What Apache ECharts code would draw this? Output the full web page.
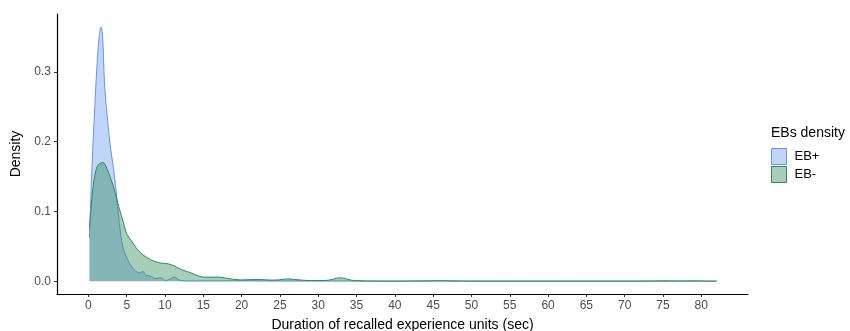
<!DOCTYPE html>
<html>
<head>
<meta charset="utf-8">
<script src="https://cdn.jsdelivr.net/npm/echarts@6/dist/echarts.min.js"></script>
<style>
  html, body { margin: 0; padding: 0; background: #fff; }
  #chart { width: 850px; height: 331px; }
</style>
</head>
<body>
<div id="chart"></div>
<script>
// Kernel density estimates of recalled experience unit durations (sec)
const seriesNames = ['EB+', 'EB-'];

const ebPlusX = [0.13, 0.35, 0.57, 0.78, 1.0, 1.2, 1.4, 1.65, 1.85, 2.09, 2.44, 2.9, 3.3, 3.6, 4.05, 4.48,
  5.13, 5.78, 6.65, 7.1, 7.4, 7.75, 8.2, 8.8, 9.5, 10.1, 10.6, 11.2, 11.7, 12.1, 12.9, 14, 16, 18, 20,
  24, 28, 32, 36, 40, 44, 45.7, 47.5, 52, 57, 62, 67, 71, 73.5, 75.1, 77, 79, 80.5, 82];
const ebPlusY = [0.062, 0.131, 0.19, 0.238, 0.286, 0.322, 0.350, 0.364, 0.352, 0.286, 0.238, 0.19, 0.16, 0.131, 0.083, 0.05,
  0.031, 0.019, 0.012, 0.014, 0.010, 0.008, 0.007, 0.004, 0.005, 0.001, 0.003, 0.006, 0.003, 0.001, 0.0005, 0.0005, 0.0006, 0.0006, 0.0008,
  0.0005, 0.0005, 0.0004, 0.0004, 0.0003, 0.0004, 0.0009, 0.0004, 0.0003, 0.0003, 0.0003, 0.0003, 0.0003, 0.0004, 0.0009, 0.0004, 0.0009, 0.0004, 0.0003];

const ebMinusX = [0.13, 0.35, 0.57, 0.9, 1.3, 1.88, 2.4, 2.9, 3.4, 3.96, 4.6, 5.0, 5.6, 6.3, 7.0, 7.8, 8.5,
  9.5, 10.4, 11.2, 12.1, 13.4, 14.3, 15.1, 16.9, 18.6, 19.9, 21.2, 22.3, 23.8, 24.8, 26.0, 27.5, 29.0, 31.0,
  32.9, 34.7, 37.7, 41, 46, 50, 55, 60, 65, 70, 75, 79, 82];
const ebMinusY = [0.076, 0.105, 0.131, 0.155, 0.167, 0.170, 0.162, 0.147, 0.131, 0.107, 0.083, 0.068, 0.058, 0.047, 0.039, 0.033, 0.029,
  0.026, 0.025, 0.022, 0.017, 0.012, 0.008, 0.006, 0.006, 0.0034, 0.002, 0.0024, 0.0026, 0.0017, 0.002, 0.0034, 0.002, 0.001, 0.0012,
  0.005, 0.001, 0.0003, 0.0003, 0.0006, 0.0003, 0.0003, 0.0003, 0.0003, 0.0003, 0.0003, 0.0003, 0.0002];

const xTicks = [0, 5, 10, 15, 20, 25, 30, 35, 40, 45, 50, 55, 60, 65, 70, 75, 80];
const yTicks = [0, 0.1, 0.2, 0.3];

const toPairs = (xs, ys) => xs.map((x, i) => [x, ys[i]]);

const lineBlue = '#6495ED';
const fillBlue = 'rgba(100,149,237,0.4)';
const lineGreen = '#2E8B57';
const fillGreen = 'rgba(46,139,87,0.42)';
const fontFam = '"Liberation Sans", Arial, sans-serif';

const chart = echarts.init(document.getElementById('chart'), null, { renderer: 'canvas' });

chart.setOption({
  animation: false,
  backgroundColor: '#ffffff',
  grid: { left: 57, right: 102, top: 14, bottom: 37, containLabel: false, outerBoundsMode: 'none' },
  title: {
    text: 'EBs density',
    left: 771,
    top: 126,
    padding: 0,
    textStyle: { fontFamily: fontFam, fontSize: 14, fontWeight: 'normal', color: '#000' }
  },
  legend: {
    orient: 'vertical',
    left: 771,
    top: 148,
    padding: 0,
    itemWidth: 15,
    itemHeight: 16,
    itemGap: 1,
    textStyle: { fontFamily: fontFam, fontSize: 13, color: '#000', padding: [0, 0, 0, 3] },
    data: [
      { name: seriesNames[0], icon: 'rect', itemStyle: { color: fillBlue, borderColor: lineBlue, borderWidth: 1 } },
      { name: seriesNames[1], icon: 'rect', itemStyle: { color: fillGreen, borderColor: lineGreen, borderWidth: 1 } }
    ]
  },
  xAxis: {
    type: 'value',
    min: -4.1,
    max: 86.1,
    name: 'Duration of recalled experience units (sec)',
    nameLocation: 'middle',
    nameGap: 24,
    nameTextStyle: { fontFamily: fontFam, fontSize: 14, color: '#000' },
    splitLine: { show: false },
    axisLine: { onZero: false, lineStyle: { color: '#000', width: 1.2 } },
    axisTick: { show: true, length: 3, customValues: xTicks, lineStyle: { color: '#333' } },
    axisLabel: { customValues: xTicks, margin: 6, fontFamily: fontFam, fontSize: 12, color: '#4D4D4D' }
  },
  yAxis: {
    type: 'value',
    min: -0.0182,
    max: 0.3827,
    name: 'Density',
    nameLocation: 'middle',
    nameGap: 32,
    nameTextStyle: { fontFamily: fontFam, fontSize: 14, color: '#000' },
    splitLine: { show: false },
    axisLine: { show: true, onZero: false, lineStyle: { color: '#000', width: 1.2 } },
    axisTick: { show: true, length: 3, customValues: yTicks, lineStyle: { color: '#333' } },
    axisLabel: {
      customValues: yTicks, margin: 6, fontFamily: fontFam, fontSize: 12, color: '#4D4D4D',
      formatter: v => v.toFixed(1)
    }
  },
  series: [
    {
      name: seriesNames[0],
      type: 'line',
      data: toPairs(ebPlusX, ebPlusY),
      smooth: 0.35,
      showSymbol: false,
      symbol: 'none',
      lineStyle: { color: lineBlue, width: 1 },
      itemStyle: { color: fillBlue },
      areaStyle: { color: fillBlue, opacity: 1, origin: 'auto' },
      z: 2
    },
    {
      name: seriesNames[1],
      type: 'line',
      data: toPairs(ebMinusX, ebMinusY),
      smooth: 0.35,
      showSymbol: false,
      symbol: 'none',
      lineStyle: { color: lineGreen, width: 1 },
      itemStyle: { color: fillGreen },
      areaStyle: { color: fillGreen, opacity: 1, origin: 'auto' },
      z: 3
    }
  ]
});
</script>
</body>
</html>
